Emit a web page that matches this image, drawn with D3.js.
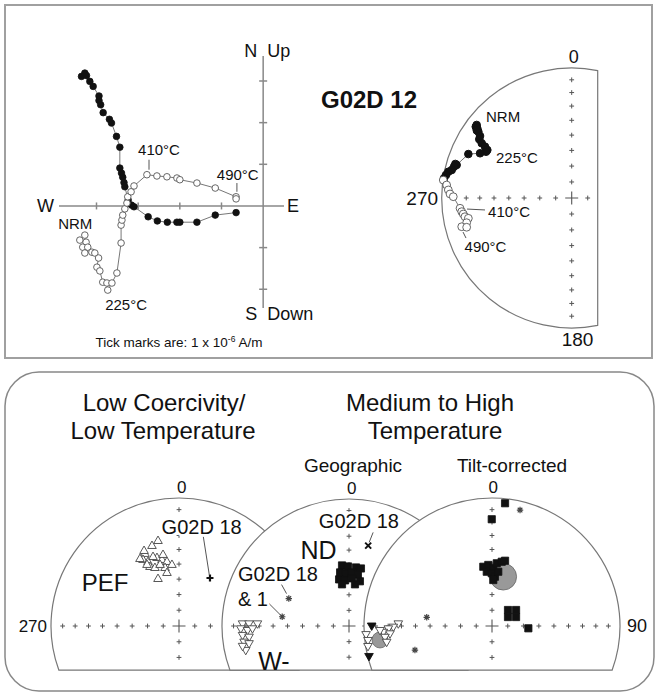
<!DOCTYPE html>
<html><head><meta charset="utf-8">
<script src="https://cdn.jsdelivr.net/npm/d3@7"></script>
<style>
body{margin:0;background:#fff}
svg{display:block}
text{font-family:"Liberation Sans",Arial,Helvetica,sans-serif;fill:#111}
</style>
</head><body>
<svg id="c" width="659" height="695"></svg>
<script>
// ---------------- DATA ----------------
// Zijderveld diagram (units of tick marks, 1 tick = 1e-6 A/m)
// filled: horizontal projection [East, North]
const zijHoriz = [[-4.36,3.11],[-4.28,3.19],[-4.24,3.13],[-4.16,2.99],[-4.08,2.87],[-3.94,2.64],[-3.94,2.53],[-3.90,2.43],[-3.84,2.24],[-3.69,2.08],[-3.64,1.99],[-3.52,1.67],[-3.44,1.41],[-3.44,0.91],[-3.40,0.79],[-3.37,0.69],[-3.34,0.56],[-3.32,0.46],[-3.24,0.14],[-3.16,0.02],[-3.10,-0.02],[-2.76,-0.26],[-2.54,-0.36],[-2.30,-0.39],[-2.07,-0.39],[-2.00,-0.39],[-1.59,-0.39],[-1.15,-0.22],[-0.65,-0.16]];
// open: vertical projection [East, Up]
const zijVert = [[-4.28,-0.70],[-4.40,-0.82],[-4.25,-0.87],[-4.33,-0.99],[-4.21,-0.99],[-4.28,-1.13],[-4.11,-1.11],[-4.04,-1.13],[-3.95,-1.25],[-3.99,-1.47],[-3.92,-1.56],[-3.85,-1.83],[-3.75,-1.85],[-3.73,-2.02],[-3.63,-1.85],[-3.51,-1.61],[-3.41,-0.89],[-3.41,-0.46],[-3.39,-0.34],[-3.37,-0.22],[-3.32,-0.07],[-3.27,0.07],[-3.25,0.22],[-3.17,0.34],[-3.10,0.48],[-2.79,0.75],[-2.55,0.72],[-2.31,0.70],[-2.07,0.67],[-2.00,0.63],[-1.59,0.55],[-1.15,0.43],[-0.65,0.22],[-0.65,0.17]];
const zijTicksE = [-4,-3,-2,-1];
const zijTicksN = [-2,-1,1,2,3];
const zijLabels = [
  {t:"410\u00B0C", p:[-2.50,1.35], lead:[[-2.74,0.87],[-2.74,1.11]]},
  {t:"490\u00B0C", p:[-0.61,0.75], lead:[[-0.63,0.34],[-0.63,0.55]]},
  {t:"225\u00B0C", p:[-3.29,-2.38]},
  {t:"NRM", p:[-4.51,-0.43]}
];

// Equal-area stereonet: projected coordinates (unit radius), [East, North]
const sampleDown = [[-0.731,0.562],[-0.738,0.548],[-0.726,0.536],[-0.718,0.510],[-0.730,0.520],[-0.705,0.477],[-0.711,0.452],[-0.692,0.421],[-0.667,0.395],[-0.649,0.369],[-0.659,0.356],[-0.705,0.344],[-0.795,0.338],[-0.885,0.254],[-0.895,0.262],[-0.905,0.241],[-0.923,0.215],[-0.949,0.202],[-0.967,0.177],[-0.982,0.152]];
const sampleUp = [[-0.988,0.138],[-0.962,0.100],[-0.949,0.062],[-0.936,0.031],[-0.911,0.010],[-0.859,-0.079],[-0.846,-0.105],[-0.834,-0.123],[-0.821,-0.144],[-0.795,-0.156],[-0.808,-0.190],[-0.846,-0.221],[-0.808,-0.225]];
const sampleLabels = [
  {t:"NRM", p:[-0.528,0.623]},
  {t:"225\u00B0C", p:[-0.421,0.308]},
  {t:"410\u00B0C", p:[-0.482,-0.108], lead:[[-0.805,-0.085],[-0.667,-0.092]]},
  {t:"490\u00B0C", p:[-0.663,-0.377], lead:[[-0.836,-0.262],[-0.813,-0.308]]}
];

// Low coercivity / low temperature net
const pefUp = [[-0.164,0.664],[-0.211,0.625],[-0.266,0.563],[-0.281,0.516],[-0.242,0.500],[-0.172,0.531],[-0.133,0.516],[-0.094,0.500],[-0.055,0.477],[-0.227,0.461],[-0.188,0.453],[-0.109,0.453],[-0.094,0.414],[-0.164,0.367],[-0.250,0.477],[-0.148,0.477],[-0.203,0.539],[-0.305,0.523],[-0.273,0.586],[-0.125,0.555]];
const lowG02D18 = [[0.242,0.375]];

// Geographic net
const geoND = [[-0.055,0.477],[-0.008,0.469],[0.055,0.461],[0.094,0.453],[-0.070,0.422],[-0.023,0.414],[0.023,0.422],[0.070,0.406],[-0.078,0.367],[-0.031,0.359],[0.023,0.375],[0.086,0.352],[-0.055,0.328],[0.047,0.328]];
const geoWUp = [[-0.838,0.021],[-0.787,0.021],[-0.721,0.021],[-0.852,-0.018],[-0.799,-0.031],[-0.760,-0.018],[-0.838,-0.070],[-0.787,-0.084],[-0.826,-0.123],[-0.787,-0.135],[-0.813,-0.188],[-0.838,-0.156]];
const geoAster = [[-0.474,0.216],[-0.526,0.073]];
const geoX = [[0.151,0.633]];

// Tilt-corrected net
const tiltND = [[-0.068,0.463],[-0.029,0.477],[0.010,0.451],[0.037,0.490],[0.076,0.502],[0.102,0.510],[-0.041,0.424],[-0.002,0.412],[0.023,0.385],[0.049,0.424],[0.010,0.359],[0.102,0.959],[-0.002,0.834],[0.125,0.125],[0.125,0.070],[0.188,0.125],[0.188,0.070],[0.284,-0.018]];
const tiltNDMean = [[0.088,0.385,0.104]];
const tiltWUp = [[-0.732,0.021],[-0.771,-0.005],[-0.810,-0.018],[-0.849,-0.045],[-0.797,-0.057],[-0.836,-0.084],[-0.875,-0.031],[-0.984,-0.063],[-0.969,-0.109],[-0.969,-0.156],[-0.823,-0.123]];
const tiltWDown = [[-0.940,0.004],[-0.961,-0.234]];
const tiltWMean = [[-0.875,-0.109,0.0625]];
const tiltAster = [[0.219,0.906],[-0.510,0.068],[-0.602,-0.188]];

// inclination ticks of the equal-area net (degrees)
const incTicks = [10,20,30,40,50,60,70,80];

// ---------------- DRAW ----------------
const svg = d3.select("#c");
const LG = "#777";

svg.append("rect").attr("x",5).attr("y",5).attr("width",647).attr("height",353)
  .attr("fill","none").attr("stroke","#a0a0a0").attr("stroke-width",2);

// ---- Zijderveld ----
const xZ = d3.scaleLinear().domain([-4.9,0.5]).range([59,284]);
const yZ = d3.scaleLinear().domain([-2.45,3.6]).range([308,56]);
const gZ = svg.append("g");
gZ.append("line").attr("x1",xZ(-4.9)).attr("x2",xZ(0.5)).attr("y1",yZ(0)).attr("y2",yZ(0)).attr("stroke","#888").attr("stroke-width",1.5);
gZ.append("line").attr("x1",xZ(0)).attr("x2",xZ(0)).attr("y1",yZ(3.6)).attr("y2",yZ(-2.45)).attr("stroke","#888").attr("stroke-width",1.5);
gZ.selectAll(".te").data(zijTicksE).join("line").attr("x1",d=>xZ(d)).attr("x2",d=>xZ(d)).attr("y1",yZ(0)-3.5).attr("y2",yZ(0)+3.5).attr("stroke","#888").attr("stroke-width",1.5);
gZ.selectAll(".tn").data(zijTicksN).join("line").attr("y1",d=>yZ(d)).attr("y2",d=>yZ(d)).attr("x1",xZ(0)-4).attr("x2",xZ(0)+4).attr("stroke","#888").attr("stroke-width",1.5);
const axisTxt = [
  {t:"N",x:xZ(0)-6,y:yZ(3.6)+1,a:"end"},{t:"Up",x:xZ(0)+4,y:yZ(3.6)+1,a:"start"},
  {t:"S",x:xZ(0)-6,y:yZ(-2.45)+12,a:"end"},{t:"Down",x:xZ(0)+4,y:yZ(-2.45)+12,a:"start"},
  {t:"W",x:xZ(-4.9)-5,y:yZ(0)+6,a:"end"},{t:"E",x:xZ(0.5)+3,y:yZ(0)+6,a:"start"}
];
gZ.selectAll(".ax").data(axisTxt).join("text").attr("x",d=>d.x).attr("y",d=>d.y).attr("text-anchor",d=>d.a).attr("font-size",18).text(d=>d.t);
const lineZ = d3.line().x(d=>xZ(d[0])).y(d=>yZ(d[1]));
gZ.append("path").attr("d",lineZ(zijHoriz)).attr("fill","none").attr("stroke",LG).attr("stroke-width",1);
gZ.append("path").attr("d",lineZ(zijVert)).attr("fill","none").attr("stroke",LG).attr("stroke-width",1);
gZ.selectAll(".zh").data(zijHoriz).join("circle").attr("cx",d=>xZ(d[0])).attr("cy",d=>yZ(d[1])).attr("r",3.3).attr("fill","#111").attr("stroke","#111").attr("stroke-width",0.8);
gZ.selectAll(".zv").data(zijVert).join("circle").attr("cx",d=>xZ(d[0])).attr("cy",d=>yZ(d[1])).attr("r",3.3).attr("fill","#fff").attr("stroke","#555").attr("stroke-width",0.9);
zijLabels.forEach(l=>{
  if(l.lead) gZ.append("line").attr("x1",xZ(l.lead[0][0])).attr("y1",yZ(l.lead[0][1])).attr("x2",xZ(l.lead[1][0])).attr("y2",yZ(l.lead[1][1])).attr("stroke","#555");
  gZ.append("text").attr("x",xZ(l.p[0])).attr("y",yZ(l.p[1])).attr("dy","0.35em").attr("text-anchor","middle").attr("font-size",15).text(l.t);
});
const cap = svg.append("text").attr("x",179).attr("y",347).attr("text-anchor","middle").attr("font-size",13.5);
cap.append("tspan").text("Tick marks are: 1 x 10");
cap.append("tspan").attr("font-size",8.5).attr("dy",-5).text("-6");
cap.append("tspan").attr("dy",5).text(" A/m");

svg.append("text").attr("x",369).attr("y",108).attr("text-anchor","middle").attr("font-size",24).attr("font-weight","bold").text("G02D 12");

// ---- net helpers ----
function plus(x,y,a){return `M${x-a},${y}H${x+a}M${x},${y-a}V${y+a}`;}
function aster(x,y,a){const b=a*0.72;return `M${x-a},${y}H${x+a}M${x},${y-a}V${y+a}M${x-b},${y-b}L${x+b},${y+b}M${x-b},${y+b}L${x+b},${y-b}`;}
function xmark(x,y,a){return `M${x-a},${y-a}L${x+a},${y+a}M${x-a},${y+a}L${x+a},${y-a}`;}
const tickR = incTicks.map(I=>Math.SQRT2*Math.sin((90-I)/2*Math.PI/180));

function makeNet(cx,cy,R,clip){
  const g = svg.append("g");
  const sx = d3.scaleLinear().domain([-1,1]).range([cx-R,cx+R]);
  const sy = d3.scaleLinear().domain([-1,1]).range([cy+R,cy-R]);
  let d;
  if(clip.type==="east"){
    const h=Math.sqrt(1-clip.v*clip.v);
    d=`M${sx(clip.v)},${sy(-h)}A${R},${R} 0 1 1 ${sx(clip.v)},${sy(h)}Z`;
  } else {
    const w=Math.sqrt(1-clip.v*clip.v);
    d=`M${sx(-w)},${sy(-clip.v)}A${R},${R} 0 1 1 ${sx(w)},${sy(-clip.v)}Z`;
  }
  g.append("path").attr("d",d).attr("fill","#fff").attr("stroke",LG).attr("stroke-width",1.2);
  const pts=[];
  tickR.forEach(r=>{
    pts.push([0,r],[-r,0]);
    if(clip.type==="east"){ pts.push([0,-r]); if(r<clip.v) pts.push([r,0]); }
    else { pts.push([r,0]); if(r<clip.v) pts.push([0,-r]); }
  });
  g.append("path").attr("d",pts.map(p=>plus(sx(p[0]),sy(p[1]),2.4)).join("")).attr("stroke","#555").attr("stroke-width",1).attr("fill","none");
  g.append("path").attr("d",plus(sx(0),sy(0),6.5)).attr("stroke","#555").attr("stroke-width",1.1).attr("fill","none");
  return {g,sx,sy};
}
function txt(n,t,p,size,anchor,halo){
  const s=n.g.append("text").attr("x",n.sx(p[0])).attr("y",n.sy(p[1])).attr("dy","0.35em")
    .attr("text-anchor",anchor||"middle").attr("font-size",size).text(t);
  if(halo) s.attr("stroke","#fff").attr("stroke-width",5).attr("paint-order","stroke").attr("stroke-linejoin","round");
  return s;
}
function lead(n,l){n.g.append("line").attr("x1",n.sx(l[0][0])).attr("y1",n.sy(l[0][1])).attr("x2",n.sx(l[1][0])).attr("y2",n.sy(l[1][1])).attr("stroke","#555").attr("stroke-width",1);}
const tri = d3.symbol().type(d3.symbolTriangle).size(32)();
const sq = d3.symbol().type(d3.symbolSquare).size(52)();
function triangles(n,data,down,filled){
  n.g.selectAll(null).data(data).join("path").attr("d",tri)
    .attr("transform",d=>`translate(${n.sx(d[0])},${n.sy(d[1])})${down?" rotate(180)":""}`)
    .attr("fill",filled?"#111":"#fff").attr("stroke",filled?"#111":"#444").attr("stroke-width",0.9);
}
function squares(n,data){
  n.g.selectAll(null).data(data).join("path").attr("d",sq)
    .attr("transform",d=>`translate(${n.sx(d[0])},${n.sy(d[1])})`).attr("fill","#111").attr("stroke","#111").attr("stroke-width",0.8);
}
function means(n,data){
  n.g.selectAll(null).data(data).join("circle").attr("cx",d=>n.sx(d[0])).attr("cy",d=>n.sy(d[1]))
    .attr("r",d=>n.sx(d[2])-n.sx(0)).attr("fill","#999").attr("stroke","#666").attr("stroke-width",0.8);
}
function asters(n,data){
  n.g.append("path").attr("d",data.map(d=>aster(n.sx(d[0]),n.sy(d[1]),3.2)).join("")).attr("stroke","#444").attr("stroke-width",1.2).attr("fill","none");
}

// ---- top-right sample net ----
const n0 = makeNet(571.7,198,130,{type:"east",v:0.2});
const line0 = d3.line().x(d=>n0.sx(d[0])).y(d=>n0.sy(d[1]));
n0.g.append("path").attr("d",line0(sampleDown.concat(sampleUp))).attr("fill","none").attr("stroke",LG).attr("stroke-width",1);
n0.g.selectAll(null).data(sampleDown).join("circle").attr("cx",d=>n0.sx(d[0])).attr("cy",d=>n0.sy(d[1])).attr("r",3.8).attr("fill","#111").attr("stroke","#111");
n0.g.selectAll(null).data(sampleUp).join("circle").attr("cx",d=>n0.sx(d[0])).attr("cy",d=>n0.sy(d[1])).attr("r",3.9).attr("fill","#fff").attr("stroke","#555").attr("stroke-width",0.9);
sampleLabels.forEach(l=>{ if(l.lead) lead(n0,l.lead); txt(n0,l.t,l.p,15); });
txt(n0,"0",[0.016,1.085],18);
txt(n0,"180",[0.045,-1.09],19);
txt(n0,"270",[-1.028,0],19,"end");

// ---- bottom panel ----
svg.append("rect").attr("x",5).attr("y",372).attr("width",649).attr("height",319).attr("rx",34).attr("ry",34)
  .attr("fill","none").attr("stroke","#888").attr("stroke-width",1.5);

const n1 = makeNet(179,626,128,{type:"south",v:0.344});
triangles(n1,pefUp,false,false);
n1.g.append("path").attr("d",lowG02D18.map(d=>plus(n1.sx(d[0]),n1.sy(d[1]),3.5)).join("")).attr("stroke","#111").attr("stroke-width",2.2);
lead(n1,[[0.190,0.698],[0.237,0.398]]);
txt(n1,"G02D 18",[0.177,0.776],20,"middle",true);
txt(n1,"PEF",[-0.578,0.338],24);
txt(n1,"0",[0.021,1.088],17);
txt(n1,"270",[-1.031,0],17,"end");

const n2 = makeNet(349,626,127,{type:"south",v:0.347});
squares(n2,geoND);
triangles(n2,geoWUp,true,false);
asters(n2,geoAster);
n2.g.append("path").attr("d",geoX.map(d=>xmark(n2.sx(d[0]),n2.sy(d[1]),3)).join("")).attr("stroke","#111").attr("stroke-width",2);
lead(n2,[[0.190,0.737],[0.159,0.659]]);
txt(n2,"G02D 18",[0.078,0.828],20,"middle",true);
txt(n2,"ND",[-0.240,0.594],25);
lead(n2,[[-0.531,0.326],[-0.492,0.255]]);
lead(n2,[[-0.630,0.177],[-0.539,0.086]]);
txt(n2,"G02D 18",[-0.875,0.412],20,"start",true);
txt(n2,"& 1",[-0.875,0.216],20,"start",true);
txt(n2,"W-",[-0.591,-0.279],25);
txt(n2,"0",[0.021,1.088],17);

const n3 = makeNet(492,626,128,{type:"south",v:0.344});
means(n3,tiltNDMean);
squares(n3,tiltND);
means(n3,tiltWMean);
triangles(n3,tiltWUp,true,false);
triangles(n3,tiltWDown,true,true);
asters(n3,tiltAster);
txt(n3,"0",[0.010,1.088],17);
txt(n3,"90",[1.055,0],18,"start");

// titles
const titles = [
  {t:"Low Coercivity/",x:164,y:403,s:24},{t:"Low Temperature",x:163,y:431,s:24},
  {t:"Medium to High",x:430,y:403,s:24},{t:"Temperature",x:435,y:431,s:24},
  {t:"Geographic",x:353,y:465,s:19},{t:"Tilt-corrected",x:512,y:465,s:19}
];
svg.selectAll(".ti").data(titles).join("text").attr("x",d=>d.x).attr("y",d=>d.y).attr("dy","0.35em").attr("text-anchor","middle").attr("font-size",d=>d.s).text(d=>d.t);
</script>
</body></html>
